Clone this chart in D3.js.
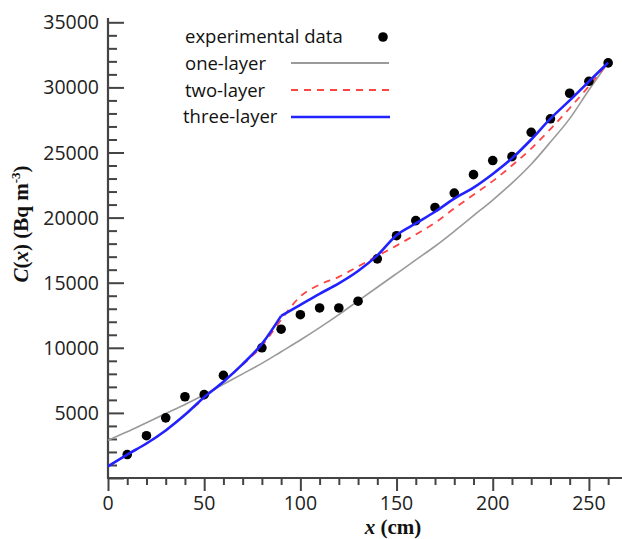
<html>
<head>
  <title>C(x) vs x</title>
  <script src="https://d3js.org/d3.v7.min.js"></script>
</head>
<body style="margin:0; background:#fff;">
<div id="chart"></div>
<script>

// experimental points
var xExp = [10, 20, 30, 40, 50, 60, 80, 90, 100, 110, 120, 130, 140, 150, 160, 170, 180, 190, 200, 210, 220, 230, 240, 250, 260];
var cExp = [1800, 3250, 4620, 6240, 6400, 7880, 10000, 11430, 12540, 13060, 13060, 13580, 16830, 18610, 19770, 20780, 21880, 23300, 24380, 24680, 26550, 27590, 29550, 30470, 31880];

// model curves, read every 10 cm
var xModel = [0, 10, 20, 30, 40, 50, 60, 70, 80, 90, 100, 110, 120, 130, 140, 150, 160, 170, 180, 190, 200, 210, 220, 230, 240, 250, 260];
var oneLayer = [2900, 3550, 4250, 4950, 5650, 6400, 7200, 8000, 8800, 9700, 10600, 11550, 12550, 13600, 14650, 15700, 16750, 17800, 18950, 20150, 21350, 22650, 24100, 25800, 27600, 29800, 31900];
var twoLayer = [900, 1800, 2650, 3650, 4850, 6100, 7400, 8700, 10150, 12150, 13950, 14850, 15450, 16250, 17050, 17850, 18700, 19600, 20700, 21750, 22800, 24000, 25300, 26800, 28400, 30100, 31900];
var threeLayer = [900, 1800, 2650, 3650, 4850, 6200, 7400, 8750, 10300, 12450, 13300, 14150, 14950, 15900, 17100, 18650, 19550, 20450, 21450, 22300, 23350, 24550, 26000, 27600, 29000, 30450, 31900];
var kinkX = 90; // layer boundary where the three-layer curve bends

var xTicks = [0, 50, 100, 150, 200, 250];
var yTicks = [5000, 10000, 15000, 20000, 25000, 30000, 35000];

var legendNames = ["experimental data", "one-layer", "two-layer", "three-layer"];

var W = 622, H = 539;
var svg = d3.select("#chart").append("svg")
  .attr("width", W).attr("height", H)
  .style("font-family", "'Open Sans', sans-serif");

var x = d3.scaleLinear().domain([0, 267.2]).range([108, 622]);
var y = d3.scaleLinear().domain([0, 35000]).range([478, 22.3]);

var axisColor = "#444";

// y axis, ticks drawn inside
var yAxis = d3.axisRight(y)
  .tickValues(d3.range(0, 35001, 1000))
  .tickSize(9)
  .tickFormat("");
var gy = svg.append("g").attr("transform", "translate(108,0)").call(yAxis);
gy.select(".domain").remove();
gy.selectAll(".tick line")
  .attr("stroke", axisColor).attr("stroke-width", 2)
  .attr("x2", function(d) { return d % 5000 === 0 ? 16 : 9; });
svg.append("line").attr("x1", 108).attr("x2", 108).attr("y1", 18).attr("y2", 479)
  .attr("stroke", axisColor).attr("stroke-width", 2.2);

svg.append("g").selectAll("text").data(yTicks).enter().append("text")
  .attr("x", 99).attr("y", function(d) { return y(d); })
  .attr("dy", "0.36em")
  .attr("text-anchor", "end")
  .attr("font-size", 19.5).attr("fill", "#222")
  .text(function(d) { return d; });

// x axis, ticks drawn outside
var xAxis = d3.axisBottom(x)
  .tickValues(d3.range(0, 261, 10))
  .tickSize(7)
  .tickFormat("");
var gx = svg.append("g").attr("transform", "translate(0,478)").call(xAxis);
gx.select(".domain").remove();
gx.selectAll(".tick line")
  .attr("stroke", axisColor).attr("stroke-width", 2)
  .attr("y2", function(d) { return d % 50 === 0 ? 13 : 7; });
svg.append("line").attr("x1", 107).attr("x2", 622).attr("y1", 478).attr("y2", 478)
  .attr("stroke", axisColor).attr("stroke-width", 2.2);

svg.append("g").selectAll("text").data(xTicks).enter().append("text")
  .attr("x", function(d) { return x(d); }).attr("y", 510)
  .attr("text-anchor", "middle")
  .attr("font-size", 19.5).attr("fill", "#222")
  .text(function(d) { return d; });

// axis titles
var xt = svg.append("text")
  .attr("x", 393).attr("y", 534)
  .attr("text-anchor", "middle")
  .style("font-family", "'Liberation Serif', 'Times New Roman', serif")
  .attr("font-weight", "bold").attr("font-size", 21).attr("fill", "#111");
xt.append("tspan").attr("font-style", "italic").text("x");
xt.append("tspan").text(" (cm)");

var yt = svg.append("text")
  .attr("transform", "translate(28,224) rotate(-90)")
  .attr("text-anchor", "middle")
  .style("font-family", "'Liberation Serif', 'Times New Roman', serif")
  .attr("font-weight", "bold").attr("font-size", 21).attr("fill", "#111");
yt.append("tspan").attr("font-style", "italic").text("C");
yt.append("tspan").text("(");
yt.append("tspan").attr("font-style", "italic").text("x");
yt.append("tspan").text(") (Bq m");
yt.append("tspan").attr("font-size", 13).attr("dy", -8).text("-3");
yt.append("tspan").attr("dy", 8).text(")");

// model curves
function series(vals) {
  return xModel.map(function(d, i) { return [d, vals[i]]; });
}
var line = d3.line()
  .x(function(d) { return x(d[0]); })
  .y(function(d) { return y(d[1]); })
  .curve(d3.curveMonotoneX);

svg.append("path").datum(series(oneLayer)).attr("d", line)
  .attr("fill", "none").attr("stroke", "#9a9a9a").attr("stroke-width", 1.6);
svg.append("path").datum(series(twoLayer)).attr("d", line)
  .attr("fill", "none").attr("stroke", "#ff4444").attr("stroke-width", 1.8)
  .attr("stroke-dasharray", "7,6");

// experimental points
svg.append("g").selectAll("circle").data(xExp).enter().append("circle")
  .attr("cx", function(d) { return x(d); })
  .attr("cy", function(d, i) { return y(cExp[i]); })
  .attr("r", 4.8).attr("fill", "#000");

// three-layer drawn in two pieces so the bend at the boundary stays sharp
var three = series(threeLayer);
[three.filter(function(d) { return d[0] <= kinkX; }),
 three.filter(function(d) { return d[0] >= kinkX; })].forEach(function(seg) {
  svg.append("path").datum(seg).attr("d", line)
    .attr("fill", "none").attr("stroke", "#2222ff").attr("stroke-width", 2.6)
    .attr("stroke-linejoin", "round");
});

// legend
var lg = svg.append("g");
var rowY = [43, 70, 96.5, 123];
lg.selectAll("text").data(legendNames).enter().append("text")
  .attr("x", function(d, i) { return i === 3 ? 183 : 185; })
  .attr("y", function(d, i) { return rowY[i]; })
  .attr("font-size", 18.5).attr("fill", "#111")
  .text(function(d) { return d; });
lg.append("circle").attr("cx", 383).attr("cy", 37).attr("r", 4.8).attr("fill", "#000");
lg.append("line").attr("x1", 291).attr("x2", 389).attr("y1", 63).attr("y2", 63)
  .attr("stroke", "#9a9a9a").attr("stroke-width", 1.8);
lg.append("line").attr("x1", 291).attr("x2", 393).attr("y1", 90).attr("y2", 90)
  .attr("stroke", "#ff4444").attr("stroke-width", 1.8).attr("stroke-dasharray", "7,6");
lg.append("line").attr("x1", 291).attr("x2", 390).attr("y1", 117).attr("y2", 117)
  .attr("stroke", "#2222ff").attr("stroke-width", 2.6);

</script>
</body>
</html>
